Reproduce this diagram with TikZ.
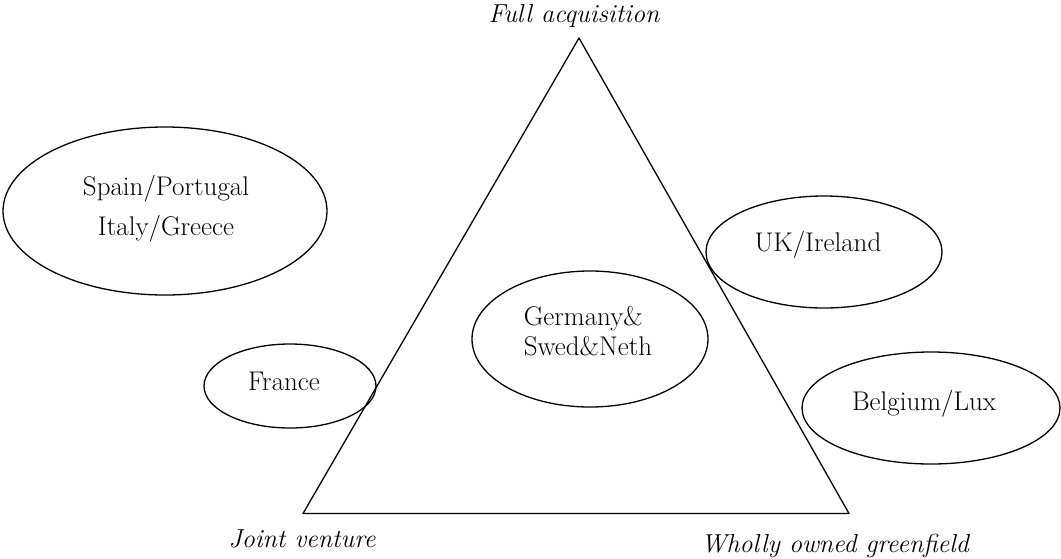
\documentclass[tikz,border=0pt]{standalone}
\usetikzlibrary{shapes.geometric}
\tikzset{
  region/.style={draw, ellipse, line width=1.3pt, inner sep=0pt},
  country/.style={font=\fontsize{27}{40}\selectfont, align=center},
  mode/.style={font=\fontsize{26}{30}\selectfont\itshape, anchor=base},
}
\begin{document}
\begin{tikzpicture}[x=1pt, y=-1pt, line join=round]
\useasboundingbox (0,0) rectangle (1061,558);
% corners of the triangle
\coordinate (fa)  at (579,38);
\coordinate (jv)  at (303,513.5);
\coordinate (wog) at (849,513.5);
\draw[line width=1.3pt] (fa)--(jv)--(wog)--cycle;
\node[mode] (faL)  at (574,22)  {Full acquisition};
\node[mode] (jvL)  at (302,547) {Joint venture};
\node[mode] (wogL) at (835,552) {Wholly owned greenfield};
% country groups
\node[region, minimum width=324pt, minimum height=168pt] (spain)   at (165,211) {};
\node[region, minimum width=172pt, minimum height=84pt]  (france)  at (290,386) {};
\node[region, minimum width=236pt, minimum height=136pt] (germany) at (590,339) {};
\node[region, minimum width=236pt, minimum height=112pt] (uk)      at (824,252) {};
\node[region, minimum width=258pt, minimum height=112pt] (benelux) at (931,408) {};
\node[country] (spainT)  at (166,209) {Spain/Portugal\\Italy/Greece};
\node[country] (franceT) at (284,381) {France};
\node[country, align=left, font=\fontsize{27}{30}\selectfont] (germanyT) at (588,331) {Germany\&\\Swed\&Neth};
\node[country] (ukT)      at (818,245) {UK/Ireland};
\node[country] (beneluxT) at (924,404) {Belgium/Lux};
\end{tikzpicture}
\end{document}
